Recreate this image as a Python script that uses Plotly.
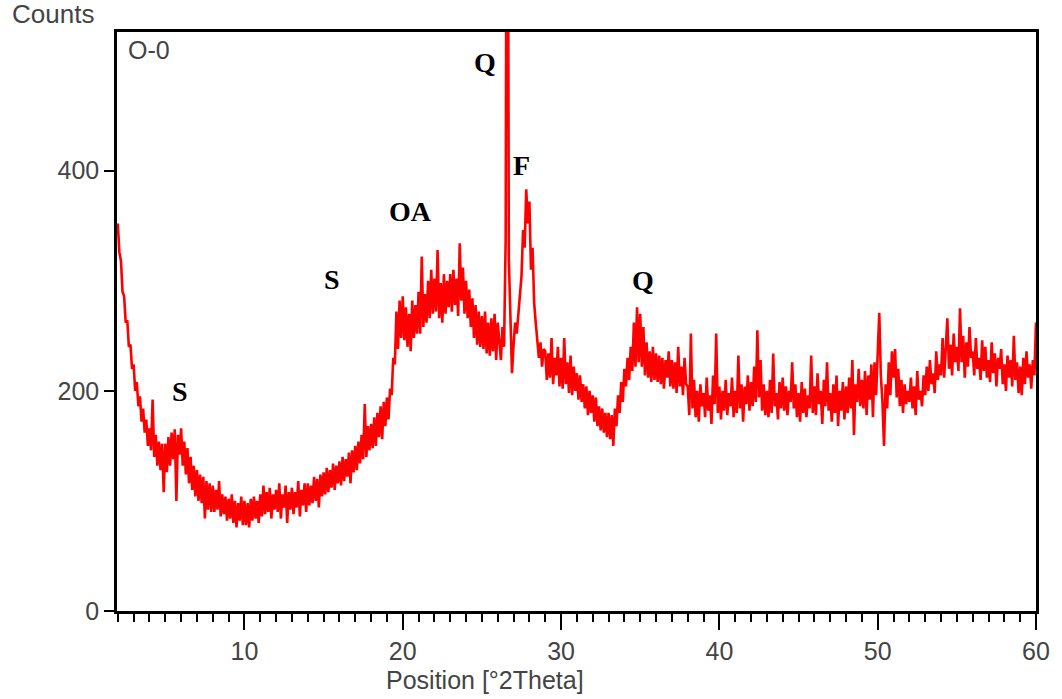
import numpy as np
import plotly.graph_objects as go

# Diffractogram of sample O-0, scanned in 0.1 degree steps from 2.0 to 60.0 deg 2-theta
counts_02_10 = [
    352, 326, 318, 290, 286, 262, 264, 240, 242, 220,
    224, 200, 208, 186, 195, 172, 184, 162, 174, 150,
    166, 146, 192, 140, 160, 132, 154, 128, 152, 108,
    152, 126, 158, 132, 162, 138, 165, 100, 160, 142,
    166, 132, 154, 124, 148, 116, 140, 110, 132, 104,
    128, 100, 124, 98, 122, 84, 118, 92, 116, 90,
    114, 90, 110, 92, 118, 86, 106, 88, 104, 82,
    102, 84, 106, 80, 100, 76, 98, 82, 104, 78,
]
counts_10_20 = [
    100, 78, 98, 76, 102, 82, 104, 84, 100, 80,
    106, 86, 114, 88, 108, 90, 112, 84, 106, 92,
    110, 90, 116, 84, 106, 94, 114, 80, 108, 92,
    112, 88, 108, 94, 118, 86, 110, 96, 116, 90,
    116, 96, 114, 98, 122, 100, 120, 94, 124, 104,
    126, 106, 130, 108, 128, 112, 134, 110, 132, 116,
    136, 114, 140, 118, 138, 122, 144, 116, 146, 126,
    150, 128, 154, 134, 160, 138, 188, 140, 168, 146,
    170, 148, 176, 150, 180, 158, 186, 156, 190, 168,
    194, 174, 202, 196, 230, 224, 272, 238, 282, 248,
]
counts_20_30 = [
    286, 246, 276, 240, 270, 236, 282, 248, 278, 252,
    290, 252, 322, 258, 288, 262, 300, 266, 310, 270,
    302, 272, 328, 266, 298, 262, 306, 270, 300, 276,
    306, 272, 310, 278, 302, 268, 334, 282, 312, 270,
    300, 266, 292, 258, 284, 248, 278, 242, 272, 240,
    268, 238, 272, 234, 262, 232, 266, 236, 270, 228,
    262, 240, 228, 258, 240, 337, 980, 320, 260, 216,
    242, 262, 252, 268, 290, 304, 346, 330, 383, 352,
    372, 310, 330, 280, 262, 248, 230, 244, 222, 238,
    236, 210, 234, 212, 248, 206, 230, 214, 240, 204,
]
counts_30_40 = [
    230, 202, 248, 206, 226, 198, 232, 196, 222, 200,
    216, 192, 214, 190, 206, 184, 204, 178, 200, 180,
    196, 172, 194, 168, 186, 164, 184, 162, 180, 158,
    180, 156, 178, 150, 184, 168, 196, 180, 208, 190,
    220, 204, 230, 210, 240, 218, 262, 222, 276, 226,
    270, 222, 258, 214, 244, 212, 236, 208, 240, 210,
    234, 208, 232, 206, 230, 202, 228, 212, 236, 204,
    228, 202, 226, 198, 240, 204, 222, 196, 230, 206,
    204, 178, 252, 184, 210, 176, 200, 172, 206, 186,
    198, 176, 212, 182, 196, 170, 214, 188, 252, 180,
]
counts_40_50 = [
    204, 174, 200, 182, 210, 178, 198, 186, 212, 176,
    200, 180, 232, 184, 206, 172, 204, 188, 214, 182,
    208, 186, 222, 190, 255, 194, 228, 182, 206, 178,
    200, 176, 210, 180, 234, 186, 198, 174, 208, 184,
    212, 182, 204, 178, 200, 190, 226, 184, 206, 176,
    198, 172, 208, 180, 202, 176, 196, 184, 232, 180,
    204, 178, 216, 188, 200, 170, 210, 186, 226, 182,
    198, 172, 206, 180, 214, 168, 200, 182, 208, 174,
    204, 180, 212, 184, 228, 160, 206, 190, 220, 186,
    210, 184, 218, 178, 214, 192, 224, 176, 226, 196,
]
counts_50_60 = [
    232, 271, 214, 190, 150, 206, 184, 226, 196, 236,
    212, 238, 194, 220, 186, 210, 180, 206, 188, 200,
    190, 212, 184, 204, 178, 218, 192, 200, 186, 214,
    196, 222, 200, 228, 206, 216, 198, 236, 210, 224,
    214, 248, 212, 236, 266, 220, 242, 214, 252, 226,
    240, 218, 275, 226, 250, 212, 244, 222, 258, 230,
    236, 214, 248, 220, 230, 210, 246, 218, 240, 212,
    228, 208, 244, 216, 234, 204, 230, 220, 238, 206,
    224, 200, 232, 212, 228, 204, 250, 210, 226, 198,
    222, 196, 230, 206, 236, 212, 224, 202, 228, 214,
    262,
]

# Phase labels: text, 2-theta position, count level
phase_labels = ["S", "S", "OA", "Q", "F", "Q"]
label_x = [5.9, 15.5, 20.5, 25.2, 27.5, 35.2]
label_y = [199, 301, 363, 498, 405, 300]

x_ticks = [10, 20, 30, 40, 50, 60]
y_ticks = [0, 200, 400]

counts = counts_02_10 + counts_10_20 + counts_20_30 + counts_30_40 + counts_40_50 + counts_50_60
two_theta = np.round(2.0 + 0.1 * np.arange(len(counts)), 1)

fig = go.Figure(
    go.Scatter(
        x=two_theta,
        y=counts,
        mode="lines",
        line=dict(color="#ff0000", width=2.6),
        hoverinfo="skip",
        showlegend=False,
    )
)

tick_font = dict(family="Liberation Sans, Arial, sans-serif", size=25, color="#444444")

fig.update_layout(
    width=1062,
    height=699,
    margin=dict(l=117, r=22, t=32, b=88),
    paper_bgcolor="white",
    plot_bgcolor="white",
    xaxis=dict(
        range=[1.95, 60],
        tickvals=x_ticks,
        ticks="outside",
        ticklen=16,
        tickwidth=2,
        tickcolor="black",
        minor=dict(dtick=1, tick0=0, ticks="outside", ticklen=8, tickwidth=1.5, tickcolor="black"),
        showline=True,
        linecolor="black",
        linewidth=2.5,
        mirror=True,
        showgrid=False,
        zeroline=False,
        tickfont=tick_font,
    ),
    yaxis=dict(
        range=[0, 526],
        tickvals=y_ticks,
        ticks="outside",
        ticklen=10,
        tickwidth=2,
        tickcolor="black",
        showline=True,
        linecolor="black",
        linewidth=2.5,
        mirror=True,
        showgrid=False,
        zeroline=False,
        tickfont=tick_font,
    ),
)

for txt, lx, ly in zip(phase_labels, label_x, label_y):
    fig.add_annotation(
        x=lx, y=ly, xref="x", yref="y", text=f"<b>{txt}</b>", showarrow=False,
        xanchor="center", yanchor="middle",
        font=dict(family="Liberation Serif, Times New Roman, serif", size=28, color="black"),
    )

fig.add_annotation(
    x=(10 - 117) / 923, y=(611 - 14) / 579, xref="paper", yref="paper",
    text="Counts", showarrow=False, xanchor="left", yanchor="middle",
    font=dict(family="Liberation Sans, Arial, sans-serif", size=26, color="#444444"),
)
fig.add_annotation(
    x=(126 - 117) / 923, y=(611 - 50) / 579, xref="paper", yref="paper",
    text="O-0", showarrow=False, xanchor="left", yanchor="middle", font=tick_font,
)
fig.add_annotation(
    x=(487 - 117) / 923, y=(611 - 680) / 579, xref="paper", yref="paper",
    text="Position [°2Theta]", showarrow=False, xanchor="center", yanchor="middle", font=tick_font,
)

fig.write_html("out.html")
